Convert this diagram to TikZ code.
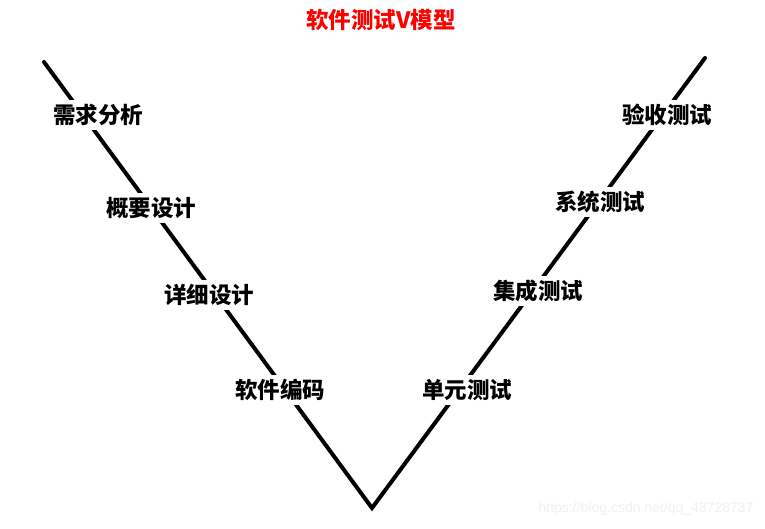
\documentclass[tikz,border=0pt]{standalone}
\usepackage{fontspec}
\newfontfamily\cjk{Noto Sans CJK SC}
\setsansfont{Liberation Sans}
\begin{document}
\begin{tikzpicture}[x=1pt,y=-1pt,
  vline/.style={line width=4pt,line cap=round,line join=miter},
  stage/.style={fill=white,inner sep=4pt,font=\cjk\bfseries\fontsize{22.5}{24}\selectfont},
  ttl/.style={font=\cjk\bfseries\fontsize{22.5}{24}\selectfont,text=red},
  wm/.style={font=\sffamily\fontsize{14}{16}\selectfont,text=black!6}]
\useasboundingbox[fill=white] (0,0) rectangle (765,528);
\coordinate (lt) at (44,62);
\coordinate (bot) at (372,508);
\coordinate (rt) at (705,58);
\draw[vline] (lt) -- (bot) -- (rt);
\node[ttl] (title) at (381,20) {软件测试V模型};
\node[stage] (req) at (98,115) {需求分析};
\node[stage] (hld) at (151,208) {概要设计};
\node[stage] (dd) at (209,295) {详细设计};
\node[stage] (code) at (280,390) {软件编码};
\node[stage] (ut) at (467,390) {单元测试};
\node[stage] (it) at (538,291) {集成测试};
\node[stage] (st) at (600,202) {系统测试};
\node[stage] (at) at (667,115) {验收测试};
\node[wm,anchor=east] (mark) at (757,509) {https://blog.csdn.net/qq\_48728737};
\end{tikzpicture}
\end{document}
